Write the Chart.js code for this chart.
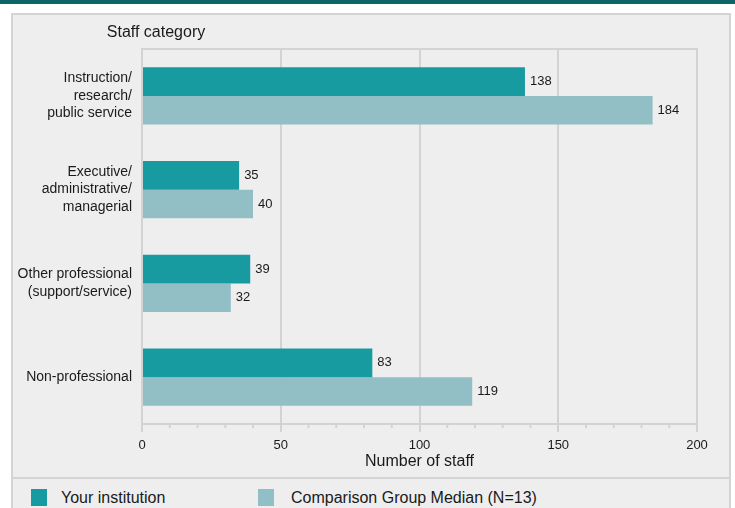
<!DOCTYPE html>
<html>
<head>
<meta charset="utf-8">
<script src="https://cdn.jsdelivr.net/npm/chart.js@4"></script>
<style>
  body { margin: 0; background: #fff; font-family: "Liberation Sans", Arial, sans-serif; }
  #topbar { position: absolute; left: 0; top: 0; width: 735px; height: 4px; background: #0b6466; }
  #panel { position: absolute; left: 11px; top: 13px; width: 716px; height: 463px; background: #eeeeee; border: 2px solid #d4d4d4; border-bottom: none; }
  #legendPanel { position: absolute; left: 11px; top: 477px; width: 716px; height: 40px; background: #eeeeee; border: 2px solid #d4d4d4; }
  #wrap { position: absolute; left: 0; top: 0; }
  .lg { position: absolute; top: 489px; font-size: 16px; color: #1a1a1a; line-height: 18px; }
  .lg span { position: absolute; top: 0; width: 16px; height: 17px; }
  .lg b { font-weight: normal; position: absolute; top: 0; white-space: nowrap; }
</style>
</head>
<body>
<div id="topbar"></div>
<div id="panel"></div>
<div id="legendPanel"></div>
<div id="wrap"><canvas id="staffChart" width="735" height="478"></canvas></div>
<div class="lg" style="left:31px"><span style="background:#179ba0"></span><b style="left:30px">Your institution</b></div>
<div class="lg" style="left:258px"><span style="background:#92bfc5"></span><b style="left:33px">Comparison Group Median (N=13)</b></div>
<script>
const categories = [
  ["Instruction/", "research/", "public service"],
  ["Executive/", "administrative/", "managerial"],
  ["Other professional", "(support/service)"],
  ["Non-professional"]
];
const yourInstitution = [138, 35, 39, 83];
const comparisonMedian = [184, 40, 32, 119];
const seriesNames = ["Your institution", "Comparison Group Median (N=13)"];

const gridColor = '#d3d3d3';
const font = "'Liberation Sans', Arial, sans-serif";

// value labels at the end of each bar, plus frame bits and minor ticks
const extras = {
  id: 'extras',
  afterDatasetsDraw(chart) {
    const ctx = chart.ctx;
    const area = chart.chartArea;
    const xs = chart.scales.x;
    ctx.save();
    ctx.strokeStyle = gridColor;
    ctx.lineWidth = 2;
    ctx.beginPath();
    ctx.moveTo(area.left - 1, area.top);
    ctx.lineTo(area.right + 1, area.top);
    for (let v = 10; v < 200; v += 10) {
      if (v % 50 === 0) continue;
      const px = xs.getPixelForValue(v);
      ctx.moveTo(px, area.bottom);
      ctx.lineTo(px, area.bottom + 4);
    }
    ctx.stroke();

    ctx.fillStyle = '#1a1a1a';
    ctx.font = '13px ' + font;
    ctx.textBaseline = 'middle';
    ctx.textAlign = 'left';
    chart.data.datasets.forEach((ds, i) => {
      chart.getDatasetMeta(i).data.forEach((bar, j) => {
        ctx.fillText(ds.data[j], bar.x + 5, bar.y);
      });
    });

    ctx.font = '16px ' + font;
    ctx.textAlign = 'center';
    ctx.fillText('Staff category', area.left + 14, 33);
    ctx.restore();
  }
};

new Chart(document.getElementById('staffChart').getContext('2d'), {
  type: 'bar',
  data: {
    labels: categories,
    datasets: [
      { label: seriesNames[0], data: yourInstitution, backgroundColor: '#179ba0' },
      { label: seriesNames[1], data: comparisonMedian, backgroundColor: '#92bfc5' }
    ]
  },
  options: {
    indexAxis: 'y',
    responsive: false,
    animation: false,
    layout: { padding: { left: 0, top: 49, right: 38, bottom: 0 } },
    datasets: { bar: { categoryPercentage: 0.61, barPercentage: 1.0 } },
    plugins: { legend: { display: false }, tooltip: { enabled: false } },
    scales: {
      x: {
        min: 0, max: 200,
        ticks: { stepSize: 50, color: '#1a1a1a', font: { size: 13, family: font }, padding: 6 },
        grid: { color: gridColor, lineWidth: 2, tickLength: 8, tickColor: gridColor },
        border: { color: gridColor, width: 2 },
        title: { display: true, text: 'Number of staff', color: '#1a1a1a', font: { size: 16, family: font }, padding: { top: 0, bottom: 7 } },
        afterFit(scale) { scale.height = 54; }
      },
      y: {
        ticks: { color: '#1a1a1a', font: { size: 14, family: font, lineHeight: 1.25 }, padding: 10 },
        grid: { display: false, drawTicks: false },
        border: { color: gridColor, width: 2 },
        afterFit(scale) { scale.width = 142; }
      }
    }
  },
  plugins: [extras]
});
</script>
</body>
</html>
